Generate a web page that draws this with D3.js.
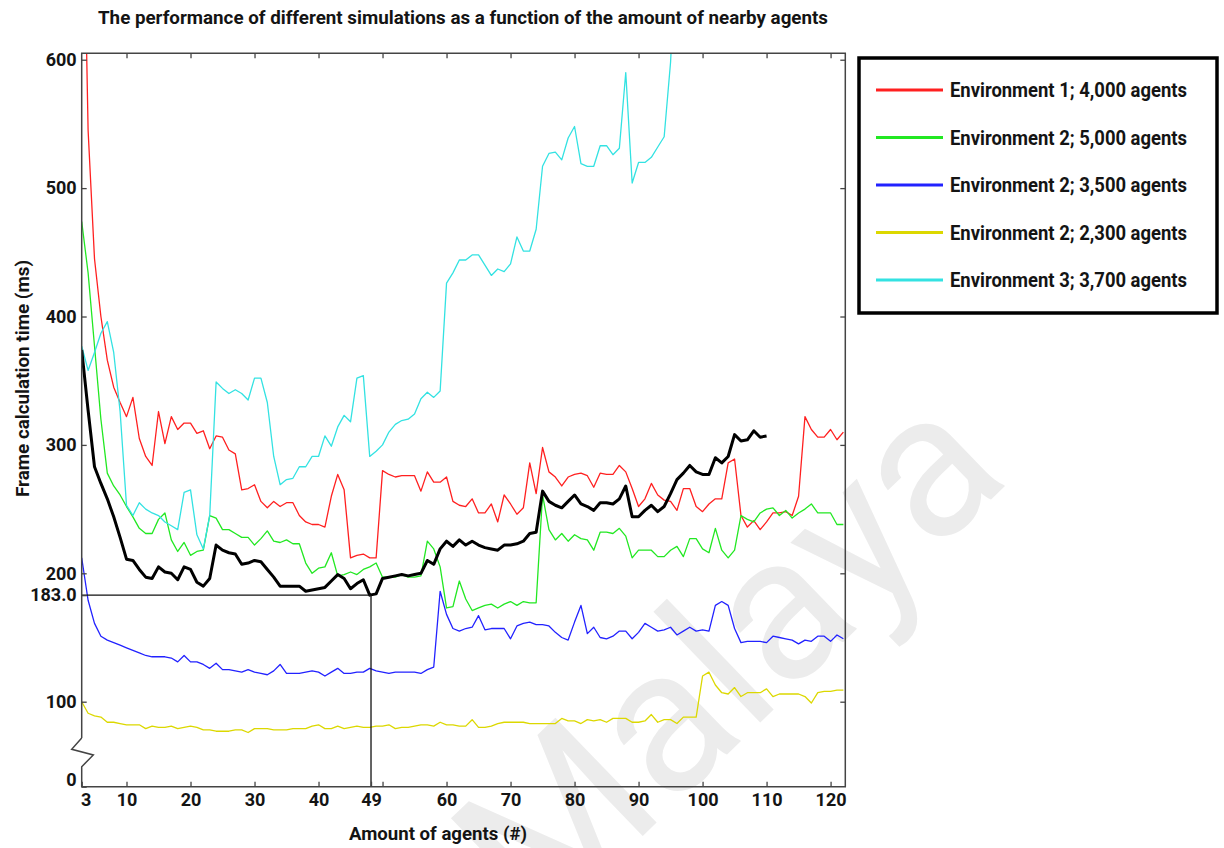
<!DOCTYPE html>
<html>
<head>
<meta charset="utf-8">
<script src="https://cdn.jsdelivr.net/npm/d3@7"></script>
<style>
    body { margin: 0; background: #fff; }
    svg text { font-family: Roboto, 'Liberation Sans', sans-serif; font-weight: bold; fill: #141414; }
</style>
</head>
<body>
<script>
// amount of nearby agents (x axis), one sample per agent
const agents = d3.range(3, 123);

// frame calculation time (ms) per series
const env1_4000 = [810,545,445,400,366,345,333,322,337,305,
    291,284,326,301,322,312,317,317,309,311,
    297,307,306,296,293,265,266,269,256,251,
    256,252,255,255,245,240,238,238,236,260,
    277,265,212,214,215,212,212,280,277,275,
    276,276,276,264,279,271,271,275,256,253,
    252,258,247,247,254,240,261,254,246,251,
    286,262,298,279,275,268,275,277,278,276,
    267,278,277,277,284,279,266,252,258,270,
    261,257,256,249,266,266,252,248,254,258,
    258,286,289,245,236,241,234,240,247,247,
    248,245,260,322,312,306,306,312,304,310];
const env2_5000 = [474,434,377,320,278,268,261,252,244,235,
    231,231,242,247,226,217,224,214,217,218,
    245,243,234,234,231,228,228,222,227,233,
    225,224,226,223,223,208,200,204,205,216,
    198,199,201,199,203,205,208,197,197,197,
    199,197,197,198,225,219,205,173,174,194,
    180,171,173,175,176,173,176,178,175,178,
    177,177,261,234,226,231,225,230,227,226,
    218,232,232,231,235,229,212,218,218,218,
    213,213,218,221,213,227,227,219,216,235,
    218,212,218,245,242,240,247,250,251,245,
    249,243,247,250,254,247,247,247,238,238];
const env2_3500 = [212,179,161,151,148,146,144,142,140,138,
    136,135,135,135,134,131,136,131,131,129,
    126,130,125,125,124,123,125,123,122,121,
    124,129,122,122,122,123,124,123,120,123,
    126,122,122,123,123,126,124,123,122,123,
    123,123,123,122,125,127,186,168,157,155,
    157,158,167,156,157,157,157,149,159,161,
    162,160,160,159,154,150,148,162,175,153,
    158,150,149,151,155,155,149,154,161,158,
    155,156,158,152,155,158,155,156,155,175,
    178,175,157,146,147,147,147,146,151,150,
    149,148,145,148,147,151,151,147,152,149];
const env2_2300 = [100,91,89,88,84,84,83,82,82,82,
    79,81,80,80,81,79,80,81,80,78,
    78,77,77,77,78,78,76,79,79,79,
    78,78,78,79,79,79,81,82,79,79,
    81,79,80,81,80,80,81,81,82,79,
    80,80,81,82,82,81,84,82,82,81,
    81,86,80,80,81,83,84,84,84,84,
    83,83,83,83,83,87,85,85,83,86,
    85,86,84,87,87,87,84,84,85,90,
    84,86,86,83,88,88,88,120,123,113,
    107,106,111,104,107,107,107,110,104,106,
    106,106,106,104,99,107,108,108,109,109];
const env3_3700 = [377,358,372,387,396,372,326,253,245,255,
    250,247,245,240,237,234,263,265,230,219,
    245,349,344,340,343,340,335,352,352,333,
    291,269,273,274,283,283,291,291,307,299,
    314,323,318,352,354,291,295,300,310,316,
    319,320,324,336,341,337,342,426,434,444,
    444,448,448,440,432,437,435,441,462,451,
    451,468,517,527,528,522,539,548,519,517,
    517,533,533,526,531,590,504,520,520,524,
    532,540,598,700];
// highlighted (thick black) curve
const optimum = [374,327,283,270,258,244,228,211,210,203,
    197,196,205,201,200,195,205,203,193,190,
    196,222,218,216,215,207,208,210,209,203,
    197,190,190,190,190,186,187,188,189,194,
    199,196,188,192,195,183,184,196,197,198,
    199,198,199,200,210,207,219,225,221,226,
    222,225,222,220,219,218,222,222,223,225,
    231,232,264,256,253,251,256,261,254,252,
    249,255,255,254,258,268,244,244,249,253,
    248,252,262,273,278,284,279,277,277,290,
    286,291,308,303,304,311,306,307];

const seriesNames = ['Environment 1; 4,000 agents', 'Environment 2; 5,000 agents',
    'Environment 2; 3,500 agents', 'Environment 2; 2,300 agents', 'Environment 3; 3,700 agents'];
const seriesValues = [env1_4000, env2_5000, env2_3500, env2_2300, env3_3700];
const seriesColors = ['#ff2020', '#22e822', '#2222ff', '#dcd800', '#33e2e2'];

const xTicks = [10, 20, 30, 40, 50, 60, 70, 80, 90, 100, 110, 120];
const yTicks = [100, 200, 300, 400, 500, 600];
const marker = { x: 48.2, y: 183, xLabel: '49', yLabel: '183.0' };
const yFloor = 33.8;   // bottom of the broken axis, labelled 0
const yCeil = 605;

const margin = { top: 53.3, left: 81.7 };
const width = 763.6;
const height = 733.4;

const svg = d3.select('body').append('svg')
    .attr('width', 1224)
    .attr('height', 848);

// faint watermark behind everything
svg.append('text')
    .attr('transform', 'translate(540, 935) rotate(-44)')
    .style('font-size', '205px')
    .style('font-weight', 'normal')
    .style('fill', '#ececec')
    .text('Malaya');

svg.append('defs').append('clipPath')
    .attr('id', 'plotClip')
    .append('rect')
    .attr('width', width)
    .attr('height', height);

const g = svg.append('g')
    .attr('transform', `translate(${margin.left}, ${margin.top})`);

const x = d3.scaleLinear().domain([3, 122.3]).range([0, width]);
const y = d3.scaleLinear().domain([yFloor, yCeil]).range([height, 0]);

const line = d3.line()
    .x((d, i) => x(agents[i]))
    .y(d => y(d));

const plot = g.append('g').attr('clip-path', 'url(#plotClip)');

seriesValues.forEach((vals, i) => {
    plot.append('path')
        .datum(vals)
        .attr('fill', 'none')
        .attr('stroke', seriesColors[i])
        .attr('stroke-width', 1.3)
        .attr('stroke-linejoin', 'round')
        .attr('d', line);
});

plot.append('path')
    .datum(optimum)
    .attr('fill', 'none')
    .attr('stroke', '#000')
    .attr('stroke-width', 3)
    .attr('stroke-linejoin', 'round')
    .attr('d', line);

// guide lines to the minimum
g.append('line')
    .attr('x1', 0).attr('x2', x(marker.x))
    .attr('y1', y(marker.y)).attr('y2', y(marker.y))
    .attr('stroke', '#111').attr('stroke-width', 1.3);
g.append('line')
    .attr('x1', x(marker.x)).attr('x2', x(marker.x))
    .attr('y1', y(marker.y)).attr('y2', height)
    .attr('stroke', '#111').attr('stroke-width', 1.3);

// axes, ticks pointing inwards
function styleAxis(sel) {
    sel.select('.domain').remove();
    sel.selectAll('.tick line').attr('stroke', '#444').attr('stroke-width', 1.3);
    sel.selectAll('.tick text')
        .style('font-size', '18px')
        .style('font-family', "Roboto, 'Liberation Sans', sans-serif")
        .style('font-weight', 'bold')
        .attr('fill', '#141414');
}

const xAxisTicks = [3, marker.x].concat(xTicks);
const xAxis = g.append('g')
    .attr('transform', `translate(0, ${height})`)
    .call(d3.axisBottom(x)
        .tickValues(xAxisTicks)
        .tickSizeInner(-5).tickSizeOuter(0).tickPadding(7)
        .tickFormat(d => d === marker.x ? marker.xLabel : (d === 50 ? '' : d)))
    .call(styleAxis);
xAxis.selectAll('.tick').filter(d => d === 3).select('text').attr('dx', 4);

g.append('g')
    .call(d3.axisTop(x).tickValues(xTicks).tickSizeInner(-5).tickSizeOuter(0).tickFormat(''))
    .call(styleAxis);

g.append('g')
    .attr('transform', `translate(${width}, 0)`)
    .call(d3.axisRight(y).tickValues(yTicks).tickSizeInner(-5).tickSizeOuter(0).tickFormat(''))
    .call(styleAxis);

const yAxis = g.append('g')
    .call(d3.axisLeft(y)
        .tickValues([yFloor, marker.y].concat(yTicks))
        .tickSizeInner(-5).tickSizeOuter(0).tickPadding(5)
        .tickFormat(d => d === yFloor ? '0' : (d === marker.y ? marker.yLabel : d)))
    .call(styleAxis);
yAxis.selectAll('.tick').filter(d => d === yFloor).select('text').attr('dy', '-0.05em');

// frame with the break mark on the left axis
const frame = d3.path();
frame.moveTo(0, height - 48.7);
frame.lineTo(0, 0);
frame.lineTo(width, 0);
frame.lineTo(width, height);
frame.lineTo(0, height);
frame.lineTo(0, height - 20);
frame.lineTo(11.6, height - 31.7);
frame.lineTo(-10, height - 37.4);
frame.lineTo(0, height - 48.7);
g.append('path')
    .attr('d', frame.toString())
    .attr('fill', 'none')
    .attr('stroke', '#444')
    .attr('stroke-width', 1.5);

// titles
svg.append('text')
    .attr('x', 98).attr('y', 24)
    .attr('textLength', 730).attr('lengthAdjust', 'spacingAndGlyphs')
    .style('font-size', '19px')
    .text('The performance of different simulations as a function of the amount of nearby agents');

svg.append('text')
    .attr('x', 349).attr('y', 840)
    .attr('textLength', 178).attr('lengthAdjust', 'spacingAndGlyphs')
    .style('font-size', '19px')
    .text('Amount of agents (#)');

svg.append('text')
    .attr('transform', 'translate(29, 378.5) rotate(-90)')
    .attr('text-anchor', 'middle')
    .attr('textLength', 237).attr('lengthAdjust', 'spacingAndGlyphs')
    .style('font-size', '19px')
    .text('Frame calculation time (ms)');

// legend
const legend = svg.append('g').attr('transform', 'translate(859, 58)');
legend.append('rect')
    .attr('width', 358).attr('height', 255)
    .attr('fill', '#fff')
    .attr('stroke', '#000')
    .attr('stroke-width', 3.5);

const item = legend.selectAll('g.item')
    .data(seriesNames)
    .join('g')
    .attr('class', 'item')
    .attr('transform', (d, i) => `translate(0, ${32 + i * 47.5})`);
item.append('line')
    .attr('x1', 17).attr('x2', 84)
    .attr('stroke', (d, i) => seriesColors[i])
    .attr('stroke-width', 3);
item.append('text')
    .attr('x', 91).attr('y', 7.3)
    .attr('textLength', 237).attr('lengthAdjust', 'spacingAndGlyphs')
    .style('font-size', '20px')
    .text(d => d);
</script>
</body>
</html>
